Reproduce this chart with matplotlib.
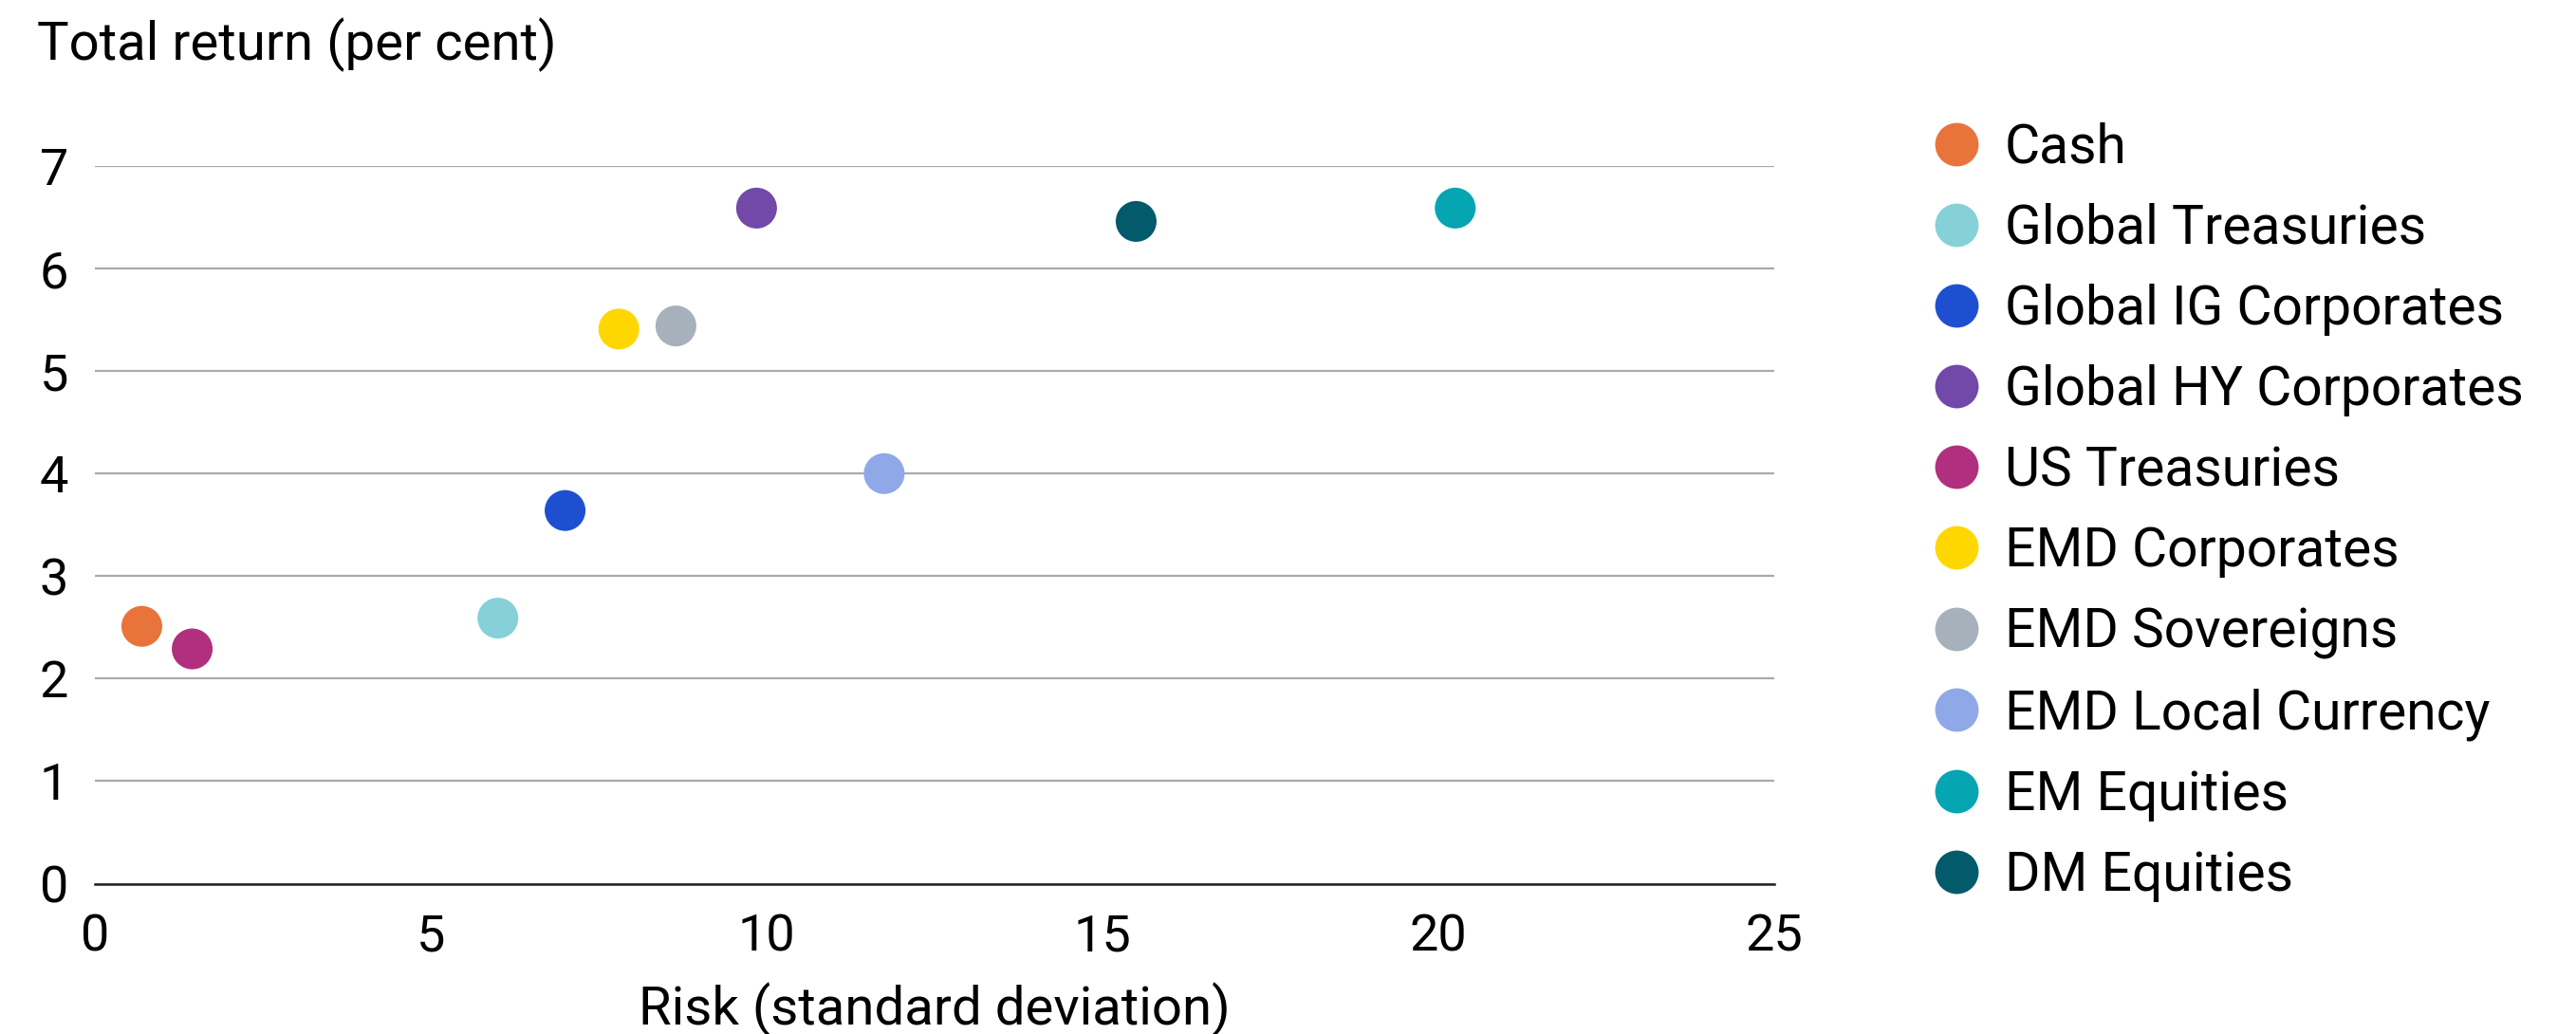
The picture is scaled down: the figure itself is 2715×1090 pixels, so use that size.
import matplotlib.pyplot as plt
from matplotlib.lines import Line2D

# dados
assets = ["Cash", "Global Treasuries", "Global IG Corporates", "Global HY Corporates",
          "US Treasuries", "EMD Corporates", "EMD Sovereigns", "EMD Local Currency",
          "EM Equities", "DM Equities"]
risk = [0.7, 6.0, 7.0, 9.85, 1.45, 7.8, 8.65, 11.75, 20.25, 15.5]
total_return = [2.51, 2.59, 3.64, 6.59, 2.29, 5.41, 5.44, 4.0, 6.59, 6.46]
colors = ["#E8743B", "#86D1D8", "#1F4FD1", "#7248A8", "#B0307F",
          "#FFD700", "#A6B1BB", "#8FA8E8", "#05A5B2", "#025A6B"]

x_ticks = [0, 5, 10, 15, 20, 25]
y_ticks = [0, 1, 2, 3, 4, 5, 6, 7]

plt.rcParams['font.family'] = ['Roboto', 'DejaVu Sans']

fig = plt.figure(figsize=(13.575, 5.45), dpi=200)
ax = fig.add_axes([0.0368, 0.1454, 0.652, 0.694])

for a, x, y, c in zip(assets, risk, total_return, colors):
    ax.scatter(x, y, s=240, color=c, edgecolors='none', zorder=3, clip_on=False, label=a)

ax.set_xlim(0, 25)
ax.set_ylim(0, 7)
ax.set_xticks(x_ticks)
ax.set_yticks(y_ticks)
ax.tick_params(length=0, labelsize=19.5)
ax.tick_params(axis='x', pad=11)
ax.tick_params(axis='y', pad=10)

# grade horizontal
ax.grid(axis='y', color='#AAAAAA', linewidth=0.8)
ax.set_axisbelow(True)
for s in ['top', 'right', 'left']:
    ax.spines[s].set_visible(False)
ax.spines['bottom'].set_color('#222222')
ax.spines['bottom'].set_linewidth(0.9)

ax.set_xlabel("Risk (standard deviation)", fontsize=20.3, labelpad=8)
fig.text(0.0144, 0.942, "Total return (per cent)", fontsize=20.3, ha='left', va='baseline')

handles = [Line2D([0], [0], marker='o', linestyle='none', markersize=16.5,
                  markerfacecolor=c, markeredgecolor='none') for c in colors]
fig.legend(handles, assets, loc='upper left', bbox_to_anchor=(0.7405, 0.903),
           frameon=False, fontsize=20.5, handletextpad=0.4, labelspacing=0.53,
           handlelength=1.0, borderaxespad=0)

fig.savefig("out.png", dpi=200)
